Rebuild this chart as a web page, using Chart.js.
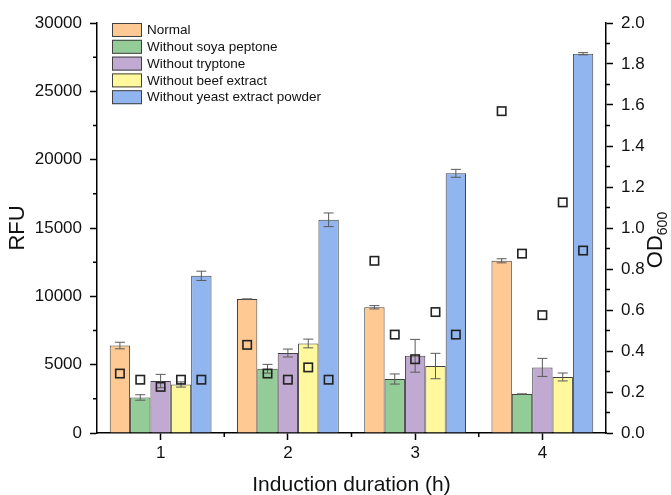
<!DOCTYPE html>
<html>
<head>
<meta charset="utf-8">
<script src="https://cdn.jsdelivr.net/npm/chart.js@4"></script>
<style>
html, body { margin: 0; padding: 0; background: #fff; }
</style>
</head>
<body>
<canvas id="myChart" width="671" height="495"></canvas>
<script>
const groups = ['1', '2', '3', '4'];
const series = ['Normal', 'Without soya peptone', 'Without tryptone', 'Without beef extract', 'Without yeast extract powder'];
const colors = ['#ffc994', '#94cc98', '#c0aad2', '#fff89c', '#91b5ee'];

/* RFU (bars) */
const rfuNormal = [6400, 9800, 9200, 12600];
const rfuSoya = [2600, 4700, 3950, 2850];
const rfuTryptone = [3800, 5850, 5650, 4800];
const rfuBeef = [3550, 6550, 4900, 4100];
const rfuYeast = [11500, 15600, 19000, 27750];

/* RFU error (+/-) */
const errNormal = [240, 0, 120, 150];
const errSoya = [200, 320, 370, 0];
const errTryptone = [490, 290, 1200, 660];
const errBeef = [190, 320, 930, 290];
const errYeast = [340, 500, 290, 80];

/* OD600 (squares, right axis) */
const odNormal = [0.29, 0.43, 0.84, 1.57];
const odSoya = [0.26, 0.29, 0.48, 0.875];
const odTryptone = [0.225, 0.26, 0.36, 0.575];
const odBeef = [0.26, 0.32, 0.59, 1.125];
const odYeast = [0.26, 0.26, 0.48, 0.89];

const rfu = [rfuNormal, rfuSoya, rfuTryptone, rfuBeef, rfuYeast];
const errs = [errNormal, errSoya, errTryptone, errBeef, errYeast];
const od = [odNormal, odSoya, odTryptone, odBeef, odYeast];

const FONT = "'Liberation Sans', Arial, sans-serif";

let datasets = series.map((name, k) => ({
  label: name,
  data: rfu[k],
  backgroundColor: colors[k],
  borderColor: '#404040',
  borderWidth: 1,
  yAxisID: 'y'
}));

/* error bars on RFU + OD600 squares over each bar */
const overlay = {
  id: 'overlay',
  afterDatasetsDraw(chart) {
    const ctx = chart.ctx;
    const yS = chart.scales.y, y1 = chart.scales.y1;
    ctx.save();
    series.forEach((name, k) => {
      const meta = chart.getDatasetMeta(k);
      ctx.strokeStyle = '#5a5a5a';
      ctx.lineWidth = 1;
      ctx.beginPath();
      meta.data.forEach((bar, i) => {
        const v = rfu[k][i], e = errs[k][i];
        const top = yS.getPixelForValue(v + e);
        const bot = yS.getPixelForValue(v - e);
        ctx.moveTo(bar.x, top); ctx.lineTo(bar.x, bot);
        ctx.moveTo(bar.x - 5, top); ctx.lineTo(bar.x + 5, top);
        ctx.moveTo(bar.x - 5, bot); ctx.lineTo(bar.x + 5, bot);
      });
      ctx.stroke();
    });
    ctx.strokeStyle = '#222';
    ctx.lineWidth = 1.6;
    series.forEach((name, k) => {
      const meta = chart.getDatasetMeta(k);
      meta.data.forEach((bar, i) => {
        const py = y1.getPixelForValue(od[k][i]);
        ctx.strokeRect(bar.x - 4.2, py - 4.2, 8.4, 8.4);
      });
    });
    ctx.restore();
  }
};

/* minor ticks, legend box and the OD600 title */
const extras = {
  id: 'extras',
  afterDraw(chart) {
    const { ctx, chartArea, scales } = chart;
    ctx.save();
    ctx.strokeStyle = '#000';
    ctx.lineWidth = 1.5;
    ctx.beginPath();
    for (let v = 2500; v < 30000; v += 5000) {
      const p = scales.y.getPixelForValue(v);
      ctx.moveTo(chartArea.left - 4, p); ctx.lineTo(chartArea.left, p);
    }
    for (let v = 0.1; v < 2; v += 0.2) {
      const p = scales.y1.getPixelForValue(v);
      ctx.moveTo(chartArea.right, p); ctx.lineTo(chartArea.right + 4, p);
    }
    for (let i = 0; i < groups.length - 1; i++) {
      const p = (scales.x.getPixelForValue(i) + scales.x.getPixelForValue(i + 1)) / 2;
      ctx.moveTo(p, chartArea.bottom); ctx.lineTo(p, chartArea.bottom + 4);
    }
    ctx.stroke();

    // legend
    ctx.font = '13.5px ' + FONT;
    ctx.textBaseline = 'middle';
    ctx.textAlign = 'left';
    series.forEach((name, k) => {
      const cy = 30 + k * 16.8;
      ctx.fillStyle = colors[k];
      ctx.fillRect(112, cy - 7, 30, 14);
      ctx.strokeStyle = '#404040';
      ctx.lineWidth = 1;
      ctx.strokeRect(112.5, cy - 6.5, 29, 13);
      ctx.fillStyle = '#111';
      ctx.fillText(name, 147, cy + 0.5);
    });

    // OD600 title
    ctx.translate(656, 240);
    ctx.rotate(-Math.PI / 2);
    ctx.fillStyle = '#111';
    ctx.font = '22px ' + FONT;
    const w1 = ctx.measureText('OD').width;
    ctx.font = '14px ' + FONT;
    const w2 = ctx.measureText('600').width;
    const x0 = -(w1 + w2) / 2;
    ctx.font = '22px ' + FONT;
    ctx.fillText('OD', x0, 0);
    ctx.font = '14px ' + FONT;
    ctx.fillText('600', x0 + w1, 7);
    ctx.restore();
  }
};

const tickFont = { family: FONT, size: 17 };

const config = {
  type: 'bar',
  data: { labels: groups, datasets: datasets },
  options: {
    responsive: false,
    animation: false,
    layout: { padding: { top: 23, left: 0, right: 0, bottom: 0 } },
    plugins: { legend: { display: false }, tooltip: { enabled: false } },
    scales: {
      x: {
        type: 'category',
        offset: true,
        grid: { display: true, drawOnChartArea: false, offset: false, tickLength: 7, tickWidth: 1.5, tickColor: '#000' },
        border: { display: true, color: '#000', width: 1.5 },
        ticks: { font: tickFont, color: '#111', padding: 3 },
        title: { display: true, text: 'Induction duration (h)', font: { family: FONT, size: 21, lineHeight: 0.9 }, color: '#111', padding: 0 },
        afterFit(s) { s.height = 62; }
      },
      y: {
        type: 'linear',
        position: 'left',
        min: 0,
        max: 30000,
        ticks: { stepSize: 5000, font: tickFont, color: '#111', padding: 8, callback: v => String(v) },
        grid: { display: true, drawOnChartArea: false, tickLength: 7, tickWidth: 1.5, tickColor: '#000' },
        border: { display: true, color: '#000', width: 1.5 },
        title: { display: true, text: 'RFU', font: { family: FONT, size: 22, lineHeight: 1 }, color: '#111', padding: { top: 7, bottom: 0 } },
        afterFit(s) { s.width = 97; }
      },
      y1: {
        type: 'linear',
        position: 'right',
        min: 0,
        max: 2,
        ticks: { stepSize: 0.2, font: tickFont, color: '#111', padding: 8, callback: v => v.toFixed(1) },
        grid: { display: true, drawOnChartArea: false, tickLength: 7, tickWidth: 1.5, tickColor: '#000' },
        border: { display: true, color: '#000', width: 1.5 },
        afterFit(s) { s.width = 65; }
      }
    },
    datasets: { bar: { categoryPercentage: 0.8, barPercentage: 1 } }
  },
  plugins: [overlay, extras]
};

let chart = new Chart(document.getElementById('myChart'), config);
</script>
</body>
</html>
